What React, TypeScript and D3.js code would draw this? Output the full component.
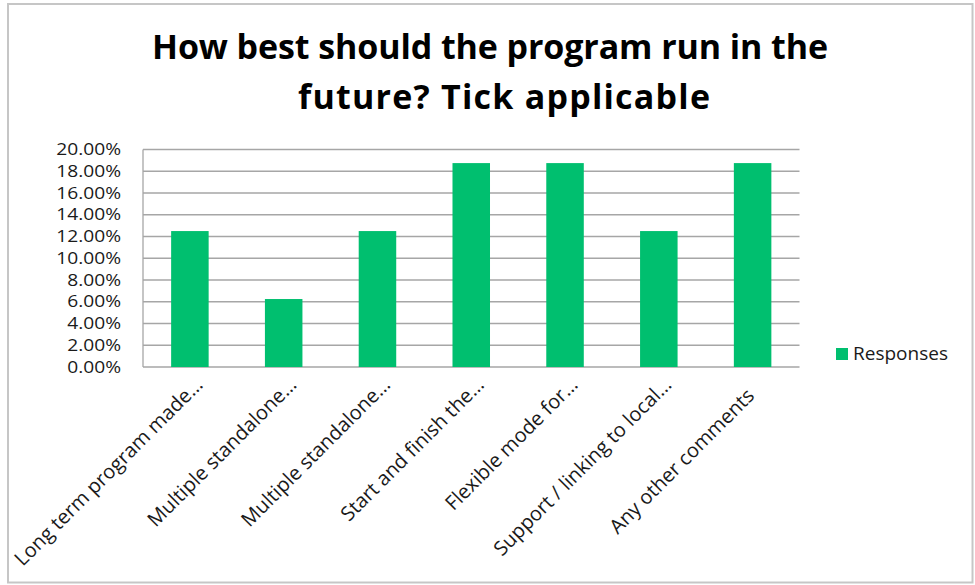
import React, { useEffect, useRef } from 'react';
import * as d3 from 'd3';

const categories = [
  'Long term program made…',
  'Multiple standalone…',
  'Multiple standalone…',
  'Start and finish the…',
  'Flexible mode for…',
  'Support / linking to local…',
  'Any other comments   ',
];
const responses = [0.125, 0.0625, 0.125, 0.1875, 0.1875, 0.125, 0.1875];
const yTicks = [0, 0.02, 0.04, 0.06, 0.08, 0.1, 0.12, 0.14, 0.16, 0.18, 0.2];
const titleLines = ['How best should the program run in the', 'future? Tick applicable'];
const seriesName = 'Responses';

const App = () => {
  const svgRef = useRef(null);

  useEffect(() => {
    if (!svgRef.current) return;
    const width = 975;
    const height = 585;
    const plot = { left: 143, right: 799.5, top: 149.5, bottom: 367 };
    const font = "'Open Sans', sans-serif";
    const barColor = '#00BF6F';
    const labelColor = '#1a1a1a';

    const svg = d3.select(svgRef.current);
    svg.selectAll('*').remove();
    svg.attr('width', width).attr('height', height);

    // Chart border
    svg.append('rect')
      .attr('x', 8).attr('y', 4)
      .attr('width', 964.5).attr('height', 578.5)
      .attr('fill', '#fff')
      .attr('stroke', '#c6c6c6')
      .attr('stroke-width', 2);

    // Title (two wrapped lines, as in the source chart)
    const titleCenters = [490, 504];
    const titleBaselines = [59, 109];
    const titleWidths = [676, 412];
    svg.selectAll('text.title')
      .data(titleLines)
      .join('text')
      .attr('class', 'title')
      .attr('x', (d, i) => titleCenters[i])
      .attr('y', (d, i) => titleBaselines[i])
      .attr('text-anchor', 'middle')
      .attr('textLength', (d, i) => titleWidths[i])
      .attr('lengthAdjust', 'spacing')
      .attr('font-family', font)
      .attr('font-weight', 700)
      .attr('font-size', 34)
      .attr('fill', '#000')
      .text(d => d);

    // Scales
    const x = d3.scaleBand()
      .domain(d3.range(categories.length).map(String))
      .range([plot.left, plot.right])
      .paddingInner(0.6)
      .paddingOuter(0.3);

    const y = d3.scaleLinear()
      .domain([0, 0.2])
      .range([plot.bottom, plot.top]);

    // Gridlines
    svg.append('g')
      .selectAll('line')
      .data(yTicks)
      .join('line')
      .attr('x1', plot.left)
      .attr('x2', plot.right)
      .attr('y1', d => y(d))
      .attr('y2', d => y(d))
      .attr('stroke', '#a6a6a6')
      .attr('stroke-width', 1.3);

    // Vertical axis line
    svg.append('line')
      .attr('x1', plot.left).attr('x2', plot.left)
      .attr('y1', plot.top).attr('y2', plot.bottom)
      .attr('stroke', '#a6a6a6')
      .attr('stroke-width', 1.3);

    // Y axis labels (slightly widened glyphs, like the source font)
    const stretch = 1.2;
    const yAxis = d3.axisLeft(y)
      .tickValues(yTicks)
      .tickSize(0)
      .tickPadding(22)
      .tickFormat(d3.format('.2%'));

    const yg = svg.append('g')
      .attr('transform', `translate(${plot.left},0)`)
      .call(yAxis);
    yg.select('.domain').remove();
    yg.selectAll('text')
      .attr('x', -22 / stretch)
      .attr('transform', `scale(${stretch},1)`)
      .attr('font-family', font)
      .attr('font-size', 16)
      .attr('fill', labelColor);

    // Bars
    svg.append('g')
      .selectAll('rect')
      .data(responses)
      .join('rect')
      .attr('x', (d, i) => x(String(i)))
      .attr('y', d => y(d))
      .attr('width', x.bandwidth())
      .attr('height', d => y(0) - y(d))
      .attr('fill', barColor);

    // Category labels, rotated
    svg.append('g')
      .selectAll('text')
      .data(categories)
      .join('text')
      .attr('transform', (d, i) => {
        const cx = x(String(i)) + x.bandwidth() / 2;
        return `translate(${cx + 14},${plot.bottom + 19}) rotate(-45)`;
      })
      .attr('text-anchor', 'end')
      .style('white-space', 'pre')
      .attr('font-family', font)
      .attr('font-size', 20)
      .attr('fill', labelColor)
      .text(d => d);

    // Legend
    const legend = svg.append('g').attr('transform', 'translate(836,348)');
    legend.append('rect')
      .attr('width', 12).attr('height', 12)
      .attr('fill', barColor);
    legend.append('text')
      .attr('x', 17)
      .attr('y', 12)
      .attr('font-family', font)
      .attr('font-size', 19)
      .attr('fill', labelColor)
      .text(seriesName);
  }, []);

  return (
    <svg ref={svgRef} style={{ position: 'absolute', left: 0, top: 0 }}></svg>
  );
};

export default App;
